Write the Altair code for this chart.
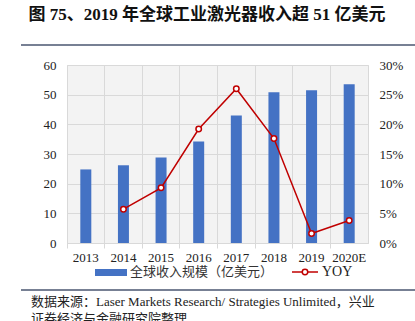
import altair as alt
import pandas as pd

years = ["2013", "2014", "2015", "2016", "2017", "2018", "2019", "2020E"]
revenue = [24.8, 26.2, 28.8, 34.2, 43.0, 50.8, 51.5, 53.5]
yoy = [None, 0.057, 0.093, 0.192, 0.260, 0.176, 0.016, 0.038]

title_text = "图 75、2019 年全球工业激光器收入超 51 亿美元"
legend_bar = "全球收入规模（亿美元）"
legend_line = "YOY"
source_1 = "数据来源：Laser Markets Research/ Strategies Unlimited，兴业"
source_2 = "证券经济与金融研究院整理"

SERIF = "Liberation Serif, Noto Sans CJK SC"
BLUE = "#4472C4"
RED = "#C00000"
GRID = "#d9d9d9"

df = pd.DataFrame({"year": years, "revenue": revenue, "yoy": yoy})
df_line = df.dropna()

W, H = 301, 178

xenc = alt.X(
    "year:O",
    sort=years,
    scale=alt.Scale(paddingInner=0, paddingOuter=0),
    axis=alt.Axis(
        title=None, labelAngle=0, labelFont=SERIF, labelFontSize=13,
        labelColor="#222222", domainColor=GRID, tickColor=GRID, tickSize=5,
        grid=True, gridColor=GRID, bandPosition=0, labelPadding=3,
    ),
)

bars = alt.Chart(df).mark_bar(color=BLUE, size=11).encode(
    x=xenc,
    y=alt.Y(
        "revenue:Q",
        scale=alt.Scale(domain=[0, 60]),
        axis=alt.Axis(
            title=None, values=[0, 10, 20, 30, 40, 50, 60], labelFont=SERIF,
            labelFontSize=13, labelColor="#222222", domain=False, ticks=False,
            gridColor=GRID, labelPadding=11,
        ),
    ),
)

yoy_y = alt.Y(
    "yoy:Q",
    scale=alt.Scale(domain=[0, 0.3]),
    axis=alt.Axis(
        title=None, orient="right", format=".0%",
        values=[0, 0.05, 0.1, 0.15, 0.2, 0.25, 0.3], labelFont=SERIF,
        labelFontSize=13, labelColor="#222222", domain=False, ticks=False,
        grid=False, labelPadding=11,
    ),
)

yoy_base = alt.Chart(df_line).encode(x=alt.X("year:O", sort=years), y=yoy_y)
line = yoy_base.mark_line(color=RED, strokeWidth=1.5)
pts = yoy_base.mark_point(
    filled=True, fill="white", stroke=RED, strokeWidth=1.5, size=30, opacity=1
)
yoy_layer = alt.layer(line, pts)

one = pd.DataFrame({"k": [0]})

def txt(text, x, y, size=13, weight="normal", align="left", color="#222222"):
    return alt.Chart(one).mark_text(
        text=text, font=SERIF, fontSize=size, fontWeight=weight, align=align,
        baseline="middle", color=color,
    ).encode(x=alt.value(x), y=alt.value(y))

def rule(x1, x2, y, color, w):
    return alt.Chart(one).mark_rule(color=color, strokeWidth=w).encode(
        x=alt.value(x1), x2=alt.value(x2), y=alt.value(y)
    )

title = txt(title_text, 140, -50, size=17, weight="bold", align="center", color="#111111")
head_line = rule(-46, 348, -20, "#4a5670", 1.5)
foot_line = rule(-46, 348, 225, "#4a5670", 1.5)
src1 = txt(source_1, -36, 237, size=13)
src2 = txt(source_2, -36, 254, size=13)

leg_swatch = alt.Chart(one).mark_rect(color=BLUE).encode(
    x=alt.value(28), x2=alt.value(60), y=alt.value(204), y2=alt.value(211)
)
leg_text1 = txt(legend_bar, 63, 207, size=13, color="#333333")
leg_line = rule(225, 251, 207, RED, 1.5)
leg_pt = alt.Chart(one).mark_point(
    filled=True, fill="white", stroke=RED, strokeWidth=1.5, size=30, opacity=1
).encode(x=alt.value(238), y=alt.value(207))
leg_text2 = txt(legend_line, 255, 207, size=14, color="#222222")

chart = alt.layer(
    bars, yoy_layer, title, head_line, foot_line, src1, src2,
    leg_swatch, leg_text1, leg_line, leg_pt, leg_text2,
).resolve_scale(y="independent").properties(
    width=W, height=H,
    autosize=alt.AutoSizeParams(type="none"),
    padding={"left": 67, "top": 65, "right": 47, "bottom": 78},
    background="white",
).configure_view(stroke=GRID, fill="#f3f3f3")

chart.save("out.html", embed_options={"renderer": "svg", "actions": False})
